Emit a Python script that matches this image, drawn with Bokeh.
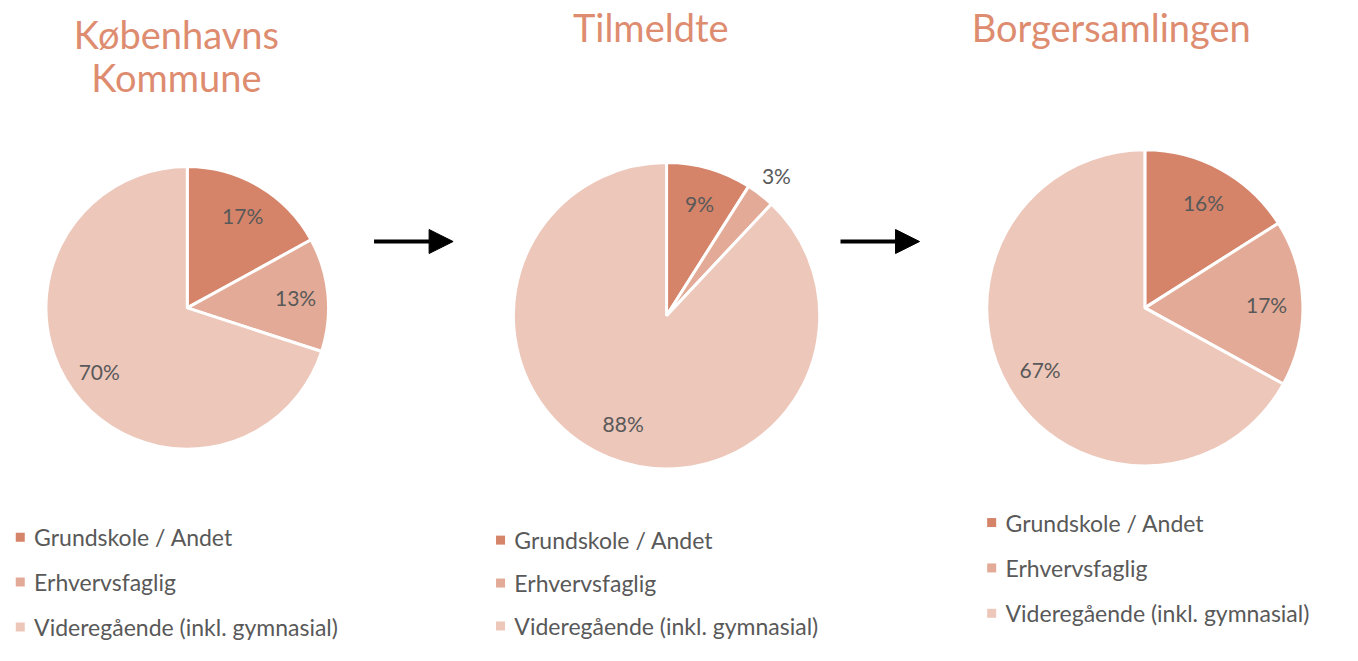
import math
from bokeh.plotting import figure
from bokeh.models import Range1d, Arrow, NormalHead
from bokeh.core.properties import value
from bokeh.embed import file_html
from bokeh.resources import INLINE

# ---- data ----
categories = ["Grundskole / Andet", "Erhvervsfaglig", "Videregående (inkl. gymnasial)"]
titles = [["Københavns", "Kommune"], ["Tilmeldte"], ["Borgersamlingen"]]
kk_values = [17, 13, 70]
tilmeldte_values = [9, 3, 88]
borger_values = [16, 17, 67]
colors = ["#D5846A", "#E3AB97", "#EDC7BA"]

TITLE_COLOR = "#DE8C6F"
TEXT_COLOR = "#595959"
FONT = "Lato"

# canvas in reference-pixel units (1358 x 661), drawn into a 1342 x 645 figure
RW, RH = 1358, 661
W, H = 1342, 645
p = figure(width=W, height=H, output_backend="svg", toolbar_location=None,
           x_range=Range1d(0, RW), y_range=Range1d(0, RH), min_border=0)
p.axis.visible = False
p.grid.visible = False
p.outline_line_color = None
p.background_fill_color = "white"

def Y(y):
    return RH - y

# layout: (cx, cy, r, title_x, title_y, legend_x, legend_y0, legend_gap)
layouts = [
    (189, 315, 143, 178, 34, 20, 550, 46),
    (674, 323, 155, 658, 27, 506, 553, 44),
    (1158, 315, 160, 1124, 27, 1003, 535, 46.5),
]
series = [kk_values, tilmeldte_values, borger_values]

for vals, title, (cx, cy, r, tx, ty, lx, ly, gap) in zip(series, titles, layouts):
    total = float(sum(vals))
    cum = 0.0
    starts, ends, lxs, lys, labs = [], [], [], [], []
    for v in vals:
        a0 = math.pi / 2 - 2 * math.pi * cum / total
        a1 = math.pi / 2 - 2 * math.pi * (cum + v) / total
        mid = math.pi / 2 - 2 * math.pi * (cum + v / 2) / total
        starts.append(a0)
        ends.append(a1)
        k = 1.17 if v / total < 0.05 else 0.77
        lxs.append(cx + k * r * math.cos(mid))
        lys.append(Y(cy) + k * r * math.sin(mid))
        labs.append(f"{v}%")
        cum += v
    p.wedge(x=[cx] * 3, y=[Y(cy)] * 3, radius=r, start_angle=starts, end_angle=ends,
            direction="clock", fill_color=colors, line_color="white", line_width=3)
    p.text(x=lxs, y=lys, text=labs, text_align="center", text_baseline="middle",
           text_font=value(FONT), text_font_size="21px", text_color=TEXT_COLOR)
    # title
    p.text(x=[tx] * len(title), y=[Y(ty + 44 * i) for i in range(len(title))], text=title,
           text_align="center", text_baseline="middle", text_font=value(FONT),
           text_font_size="38px", text_color=TITLE_COLOR)
    # legend
    ys = [Y(ly + gap * i) for i in range(3)]
    p.scatter(x=[lx] * 3, y=ys, marker="square", size=9, fill_color=colors, line_color=None)
    p.text(x=[lx + 14] * 3, y=ys, text=categories, text_align="left", text_baseline="middle",
           text_font=value(FONT), text_font_size="23px", text_color=TEXT_COLOR)

for x0, x1 in [(378, 458), (850, 930)]:
    p.add_layout(Arrow(end=NormalHead(size=24, fill_color="black", line_color="black"),
                       x_start=x0, y_start=Y(247), x_end=x1, y_end=Y(247),
                       line_width=4, line_color="black"))

open("out.html", "w").write(file_html(p, INLINE))
